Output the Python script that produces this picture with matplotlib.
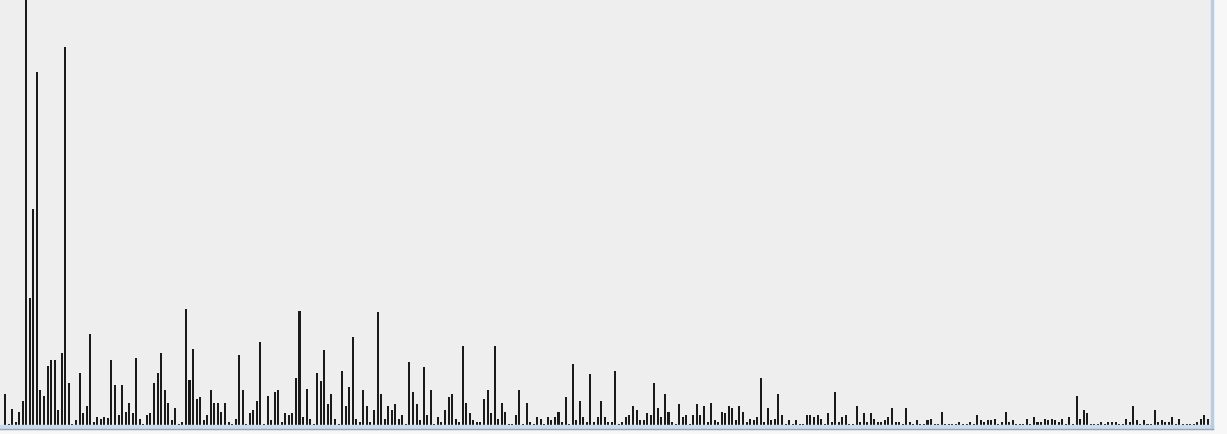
"""Dense histogram of counts per bin, screenshot style."""
import matplotlib

matplotlib.use("Agg")
import matplotlib.pyplot as plt
import numpy as np
from matplotlib.lines import Line2D
from matplotlib.patches import Rectangle

# counts per bin (bins 1..340)
counts_a = [31, 1, 16, 3, 13, 24, 430, 127, 216, 353, 35, 29, 59, 65, 65, 15, 72, 378, 42, 1,
            5, 52, 12, 19, 91, 3, 8, 6, 8, 7, 65, 40, 10, 40, 13, 22, 12, 67, 6, 1,
            10, 12, 42, 52, 72, 35, 22, 5, 17, 1, 3, 116, 45, 76, 26, 28, 5]
counts_b = [10, 35, 22, 22, 13, 22, 3, 1, 6, 70, 35, 1, 12, 15, 24, 83, 1, 29, 5, 33,
            35, 3, 12, 10, 12, 47, 114, 8, 36, 6, 1, 52, 44, 75, 21, 31, 6, 1, 54, 19,
            38, 88, 6, 3, 35, 19, 3, 15, 113, 31, 6, 19, 15, 21, 6, 10]
counts_c = [1, 63, 33, 21, 5, 58, 10, 35, 1, 8, 3, 15, 28, 31, 6, 3, 79, 22, 12, 5,
            3, 3, 26, 35, 12, 79, 6, 22, 13, 1, 1, 10, 35, 1, 22, 3, 1, 8, 6, 1,
            8, 5, 8, 13, 3, 28, 1, 61, 5, 24, 8, 3, 51, 3, 8, 24, 8]
counts_d = [3, 3, 54, 1, 3, 8, 10, 19, 15, 5, 5, 12, 10, 42, 17, 8, 31, 13, 3, 1,
            21, 8, 10, 1, 10, 21, 10, 19, 3, 22, 5, 3, 13, 12, 19, 17, 5, 19, 13, 3,
            6, 5, 8, 47, 3, 17, 5, 6, 31, 10, 1, 5, 1, 5, 1, 1]
counts_e = [10, 10, 8, 10, 6, 1, 12, 3, 33, 3, 8, 10, 1, 1, 19, 3, 12, 3, 12, 6,
            3, 3, 5, 8, 17, 3, 3, 1, 17, 3, 1, 5, 1, 1, 5, 6, 1, 1, 13, 1,
            1, 1, 1, 3, 1, 1, 3, 1, 10, 5, 3, 5, 5, 6, 1, 3, 13]
counts_f = [3, 5, 1, 1, 1, 6, 1, 8, 3, 3, 6, 5, 6, 5, 3, 6, 1, 8, 1, 29,
            6, 15, 12, 1, 1, 1, 3, 1, 3, 3, 3, 1, 1, 6, 3, 19, 5, 1, 5, 1,
            1, 15, 3, 5, 3, 3, 8, 1, 6, 1, 1, 1, 1, 3, 6, 10, 6]

counts = counts_a + counts_b + counts_c + counts_d + counts_e + counts_f

W, H = 1227, 434
fig = plt.figure(figsize=(W / 100, H / 100), dpi=100, facecolor="#f7f7f7")

# plot area: 0..1211 px wide, 0..425 px tall (from top)
ax = fig.add_axes([0, (H - 425) / H, 1211 / W, 425 / H])
ax.set_facecolor("#eeeeee")

bins = np.arange(len(counts))
ax.bar(bins, counts, width=0.57, color="#1a1a1a", linewidth=0)

ax.set_xlim(-1.41, 339.9)
ax.set_ylim(0, 425)
ax.set_xticks([])
ax.set_yticks([])
for s in ax.spines.values():
    s.set_visible(False)

# window frame: light blue strip under the bars, grey rule, right border
fig.patches.append(Rectangle((0, (H - 428.5) / H), 1213 / W, 3.5 / H,
                             transform=fig.transFigure, color="#cadcee",
                             zorder=0))
fig.lines.append(Line2D([0, 1213 / W], [(H - 429) / H] * 2,
                        transform=fig.transFigure, color="#9ba6b2", lw=1))
fig.patches.append(Rectangle((1211 / W, (H - 429) / H), 2 / W, 429 / H,
                             transform=fig.transFigure, color="#b8cde2",
                             zorder=0))

fig.savefig("out.png", dpi=100, facecolor=fig.get_facecolor())
